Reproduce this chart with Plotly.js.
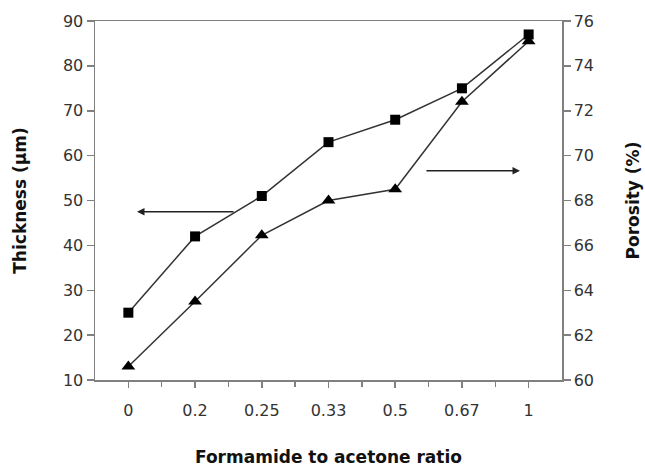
<!DOCTYPE html>
<html><head><meta charset="utf-8">
<script src="https://cdn.plot.ly/plotly-3.0.1.min.js"></script>
<style>html,body{margin:0;padding:0;background:#fff}</style>
</head><body><div id="chart" style="width:645px;height:467px"></div>
<script>
var ratioLabels = ["0","0.2","0.25","0.33","0.5","0.67","1"];
var thickness = [25, 42, 51, 63, 68, 75, 87];
var porosity = [60.6, 63.5, 66.45, 68.0, 68.5, 72.4, 75.1];
var idx = ratioLabels.map(function(_, i){ return i; });

var traces = [
  {x: idx, y: thickness, name: "Thickness", type: "scatter", mode: "lines+markers",
   line: {color: "#333", width: 1.5}, marker: {symbol: "square", size: 10, color: "#000"},
   yaxis: "y", cliponaxis: false},
  {x: idx, y: porosity, name: "Porosity", type: "scatter", mode: "lines+markers",
   line: {color: "#333", width: 1.5}, marker: {symbol: "triangle-up", size: 12, color: "#000"},
   yaxis: "y2", cliponaxis: false}
];
var tickFont = {family: "DejaVu Sans, sans-serif", size: 16, color: "#333"};
var titleFont = {family: "DejaVu Sans, sans-serif", size: 17, color: "#111"};
var layout = {
  width: 645, height: 467,
  margin: {l: 95, r: 83, t: 21, b: 87},
  paper_bgcolor: "#fff", plot_bgcolor: "#fff",
  showlegend: false,
  font: tickFont,
  xaxis: {range: [-0.5, 6.5], tickvals: idx, ticktext: ratioLabels, tickfont: tickFont,
    showgrid: false, zeroline: false, showline: true, linecolor: "#808080", linewidth: 1.5,
    mirror: true, ticks: "outside", ticklen: 6, tickcolor: "#808080", tickwidth: 1.5,
    ticklabelstandoff: 9,
    minor: {ticks: "outside", tickvals: [0.5,1.5,2.5,3.5,4.5,5.5], ticklen: 5, tickcolor: "#808080", tickwidth: 1.5},
    title: {text: "<b>Formamide to acetone ratio</b>", font: titleFont, standoff: 32},
    fixedrange: true},
  yaxis: {range: [10, 90], dtick: 10, showgrid: false, zeroline: false, tickfont: tickFont,
    showline: true, linecolor: "#808080", linewidth: 1.5,
    ticks: "outside", ticklen: 7, tickcolor: "#808080", tickwidth: 1.5,
    title: {text: "<b>Thickness (µm)</b>", font: titleFont, standoff: 32}},
  yaxis2: {range: [60, 76], dtick: 2, overlaying: "y", side: "right", showgrid: false, zeroline: false, tickfont: tickFont,
    showline: true, linecolor: "#808080", linewidth: 1.5,
    ticks: "outside", ticklen: 7, tickcolor: "#808080", tickwidth: 1.5,
    title: {text: "<b>Porosity (%)</b>", font: titleFont, standoff: 34}},
  annotations: [
    {xref: "paper", yref: "paper", x: 0.09, y: 0.469, ax: 98, ay: 0, axref: "pixel", ayref: "pixel",
     showarrow: true, arrowhead: 2, arrowsize: 1, arrowwidth: 1.5, arrowcolor: "#222", text: ""},
    {xref: "paper", yref: "paper", x: 0.91, y: 0.583, ax: -95, ay: 0, axref: "pixel", ayref: "pixel",
     showarrow: true, arrowhead: 2, arrowsize: 1, arrowwidth: 1.5, arrowcolor: "#222", text: ""}
  ]
};
Plotly.newPlot("chart", traces, layout, {staticPlot: true});
</script></body></html>
